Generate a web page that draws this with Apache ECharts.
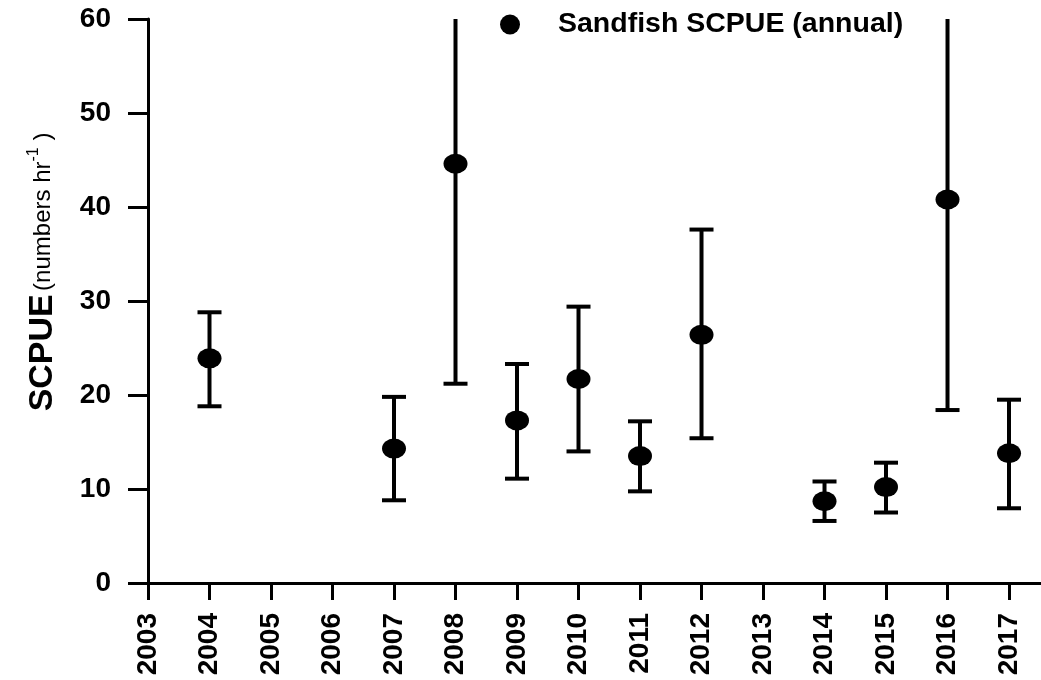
<!DOCTYPE html>
<html>
<head>
<meta charset="utf-8">
<script src="https://cdn.jsdelivr.net/npm/echarts@6/dist/echarts.min.js"></script>
<style>
  html, body { margin: 0; padding: 0; background: #fff; }
  #chart { width: 1041px; height: 680px; }
</style>
</head>
<body>
<div id="chart"></div>
<script>
// annual sandfish SCPUE, mean with upper / lower error limits
var years = [2004, 2007, 2008, 2009, 2010, 2011, 2012, 2014, 2015, 2016, 2017];
var scpue = [23.9, 14.3, 44.6, 17.3, 21.7, 13.5, 26.4, 8.7, 10.2, 40.8, 13.8];
var upper = [28.8, 19.8, 68, 23.3, 29.4, 17.2, 37.6, 10.8, 12.8, 68, 19.5];
var lower = [18.8, 8.8, 21.2, 11.1, 14.0, 9.75, 15.4, 6.6, 7.5, 18.4, 7.95];
var yTicks = [0, 10, 20, 30, 40, 50, 60];

var font = 'Liberation Sans, Arial, sans-serif';
var myChart = echarts.init(document.getElementById('chart'));

var points = [];
var bars = [];
for (var i = 0; i < years.length; i++) {
  points.push([years[i], scpue[i]]);
  bars.push([years[i], lower[i], upper[i]]);
}

var option = {
  animation: false,
  backgroundColor: '#fff',
  grid: { left: 148, right: -4, top: 19, bottom: 97 },
  legend: {
    left: 495,
    top: 5,
    itemWidth: 24,
    itemHeight: 20,
    data: [{ name: 'Sandfish SCPUE (annual)', icon: 'circle' }],
    textStyle: {
      fontFamily: font, fontWeight: 'bold', fontSize: 28.5, color: '#000',
      padding: [0, 0, 0, 31]
    }
  },
  xAxis: {
    type: 'value',
    min: 2003,
    max: 2017.52,
    interval: 1,
    splitLine: { show: false },
    axisLine: { lineStyle: { color: '#000', width: 3 } },
    axisTick: { length: 17, lineStyle: { color: '#000', width: 3 } },
    axisLabel: {
      rotate: 90,
      margin: 30,
      showMaxLabel: false,
      fontFamily: font, fontWeight: 'bold', fontSize: 28, color: '#000',
      formatter: function (v) { return String(v); }
    }
  },
  yAxis: {
    type: 'value',
    min: yTicks[0],
    max: yTicks[yTicks.length - 1],
    interval: 10,
    splitLine: { show: false },
    axisLine: { show: true, lineStyle: { color: '#000', width: 3 } },
    axisTick: { show: true, length: 20, lineStyle: { color: '#000', width: 3 } },
    axisLabel: {
      margin: 37,
      fontFamily: font, fontWeight: 'bold', fontSize: 28, color: '#000'
    },
    name: '{a|SCPUE} {b|(numbers hr}{c|-1}{b| )}',
    nameLocation: 'middle',
    nameGap: 88,
    nameRotate: 90,
    nameTextStyle: {
      padding: [0, 0, 0, 58],
      rich: {
        a: { fontFamily: font, fontWeight: 'bold', fontSize: 34, color: '#000' },
        b: { fontFamily: font, fontSize: 24, color: '#000' },
        c: { fontFamily: font, fontSize: 16, color: '#000', verticalAlign: 'top', padding: [0, 0, 16, 0] }
      }
    }
  },
  series: [
    {
      name: 'error',
      type: 'custom',
      clip: true,
      data: bars,
      renderItem: function (params, api) {
        var lo = api.coord([api.value(0), api.value(1)]);
        var hi = api.coord([api.value(0), api.value(2)]);
        var half = 12;
        var style = { stroke: '#000', lineWidth: 4 };
        return {
          type: 'group',
          children: [
            { type: 'line', shape: { x1: lo[0], y1: lo[1], x2: hi[0], y2: hi[1] }, style: style },
            { type: 'line', shape: { x1: lo[0] - half, y1: lo[1], x2: lo[0] + half, y2: lo[1] }, style: style },
            { type: 'line', shape: { x1: hi[0] - half, y1: hi[1], x2: hi[0] + half, y2: hi[1] }, style: style }
          ]
        };
      },
      z: 2
    },
    {
      name: 'Sandfish SCPUE (annual)',
      type: 'scatter',
      data: points,
      symbol: 'circle',
      symbolSize: [24, 20],
      itemStyle: { color: '#000', opacity: 1 },
      z: 3
    }
  ]
};

myChart.setOption(option);
</script>
</body>
</html>
